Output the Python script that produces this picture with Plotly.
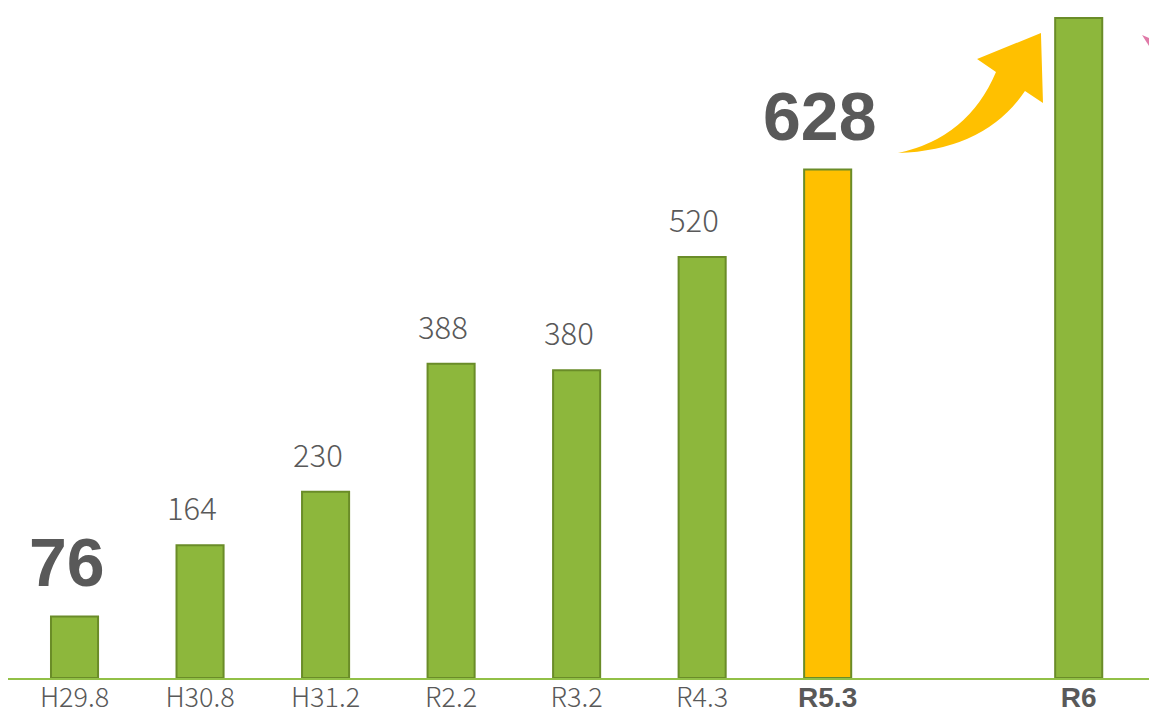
import plotly.graph_objects as go

# ---- data ----
periods = ["H29.8", "H30.8", "H31.2", "R2.2", "R3.2", "R4.3", "R5.3", "R6"]
counts = [76, 164, 230, 388, 380, 520, 628, 815]          # R6 bar has no printed value (estimated)
shown_labels = ["76", "164", "230", "388", "380", "520", "628", ""]
emphasised = ["H29.8", "R5.3"]                             # big bold value labels
bold_ticks = ["R5.3", "R6"]
highlight = "R5.3"
spacer = " "
category_order = ["H29.8", "H30.8", "H31.2", "R2.2", "R3.2", "R4.3", "R5.3", spacer, "R6"]

W, H = 1149, 715
L, R, T, B = 8, 0, 10, 37

GREEN = "#8DB73C"
GREEN_EDGE = "#6A8C28"
YELLOW = "#FFC000"
TEXT = "#595959"

colors = [YELLOW if p == highlight else GREEN for p in periods]

fig = go.Figure()
fig.add_trace(go.Bar(
    x=periods, y=counts,
    marker=dict(color=colors, line=dict(color=GREEN_EDGE, width=2)),
    hoverinfo="skip",
))

# value labels
for p, v, t in zip(periods, counts, shown_labels):
    if not t:
        continue
    if p in emphasised:
        font = dict(family="Liberation Sans, Arial", size=68, color=TEXT, weight="bold")
    else:
        font = dict(family="Noto Sans CJK JP", size=31, color=TEXT, weight=300)
    fig.add_annotation(x=p, y=v, text=t, showarrow=False, yanchor="bottom",
                       xanchor="center", yshift=14, xshift=-8, font=font)

# tick labels
ticktext = []
for c in category_order:
    if c == spacer:
        ticktext.append("")
    elif c in bold_ticks:
        ticktext.append("<b><span style='font-family:Liberation Sans, Arial;font-size:28px'>%s</span></b>" % c)
    else:
        ticktext.append(c)

# decorative curved arrow (pixel coords -> paper coords)
pw = W - L - R
ph = H - T - B
def px(x, y):
    return "%.4f,%.4f" % ((x - L) / pw, (H - B - y) / ph)

arrow_path = ("M " + px(898, 153) +
              " Q " + px(968, 138) + " " + px(996, 72) +
              " L " + px(977, 59) +
              " L " + px(1041, 33) +
              " L " + px(1043, 103) +
              " L " + px(1025, 91) +
              " Q " + px(985, 150) + " " + px(898, 153) + " Z")
fig.add_shape(type="path", path=arrow_path, xref="paper", yref="paper",
              fillcolor=YELLOW, line=dict(width=0), layer="above")

pink_path = "M " + px(1142, 35) + " L " + px(1149, 38) + " L " + px(1149, 46) + " Z"
fig.add_shape(type="path", path=pink_path, xref="paper", yref="paper",
              fillcolor="#E07AA8", line=dict(width=0), layer="above")

fig.update_layout(
    width=W, height=H,
    margin=dict(l=L, r=R, t=T, b=B, autoexpand=False),
    paper_bgcolor="white", plot_bgcolor="white",
    showlegend=False,
    bargap=0.625,
    xaxis=dict(
        type="category", automargin=False,
        categoryorder="array", categoryarray=category_order,
        tickvals=category_order, ticktext=ticktext,
        range=[-0.53, 8.56],
        showline=True, linecolor="#92C047", linewidth=1.5,
        showgrid=False, zeroline=False, ticks="",
        ticklabelstandoff=-5,
        tickfont=dict(family="Noto Sans CJK JP", size=27, color=TEXT, weight=300),
        fixedrange=True,
    ),
    yaxis=dict(range=[0, 825], visible=False, showgrid=False, fixedrange=True,
               automargin=False),
)

fig.write_html("out.html",
               config={"displayModeBar": False, "staticPlot": True},
               post_script="document.body.style.margin='0px';document.body.style.overflow='hidden';")
